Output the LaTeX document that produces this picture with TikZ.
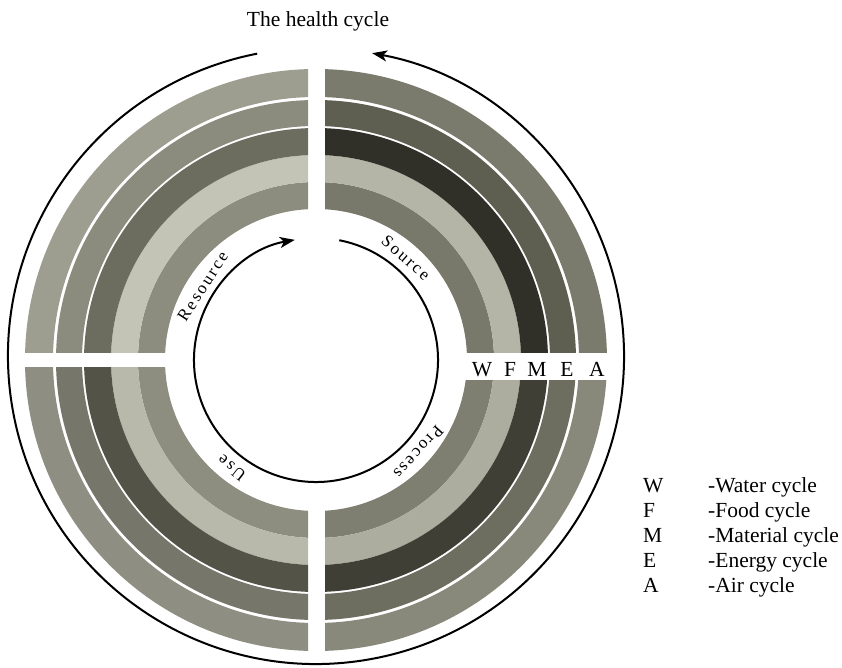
\documentclass[tikz,border=0pt]{standalone}
\usepackage{fontspec}
\setmainfont{Liberation Serif}
\usetikzlibrary{arrows.meta}

\definecolor{srcW}{HTML}{78786B}
\definecolor{srcF}{HTML}{B4B4A7}
\definecolor{srcM}{HTML}{303028}
\definecolor{srcE}{HTML}{5E5E51}
\definecolor{srcA}{HTML}{7B7B6D}
\definecolor{resW}{HTML}{8C8C7F}
\definecolor{resF}{HTML}{C3C3B6}
\definecolor{resM}{HTML}{6C6C5F}
\definecolor{resE}{HTML}{8C8C7E}
\definecolor{resA}{HTML}{9D9D90}
\definecolor{useW}{HTML}{8D8D80}
\definecolor{useF}{HTML}{B8B8AB}
\definecolor{useM}{HTML}{535348}
\definecolor{useE}{HTML}{76766A}
\definecolor{useA}{HTML}{8E8E82}
\definecolor{proW}{HTML}{7E7E71}
\definecolor{proF}{HTML}{ADAD9F}
\definecolor{proM}{HTML}{3F3F36}
\definecolor{proE}{HTML}{6D6D60}
\definecolor{proA}{HTML}{89897B}

\tikzset{
  ring/.style={even odd rule},
  cyclearrow/.style={line width=2pt,->,>={Stealth[length=15pt,width=11pt,inset=4pt]}},
  ringlabel/.style={font=\fontsize{17}{19}\selectfont\addfontfeature{LetterSpace=13},inner sep=0pt},
  keytext/.style={font=\fontsize{21.5}{25}\selectfont,inner sep=0pt}
}

\begin{document}
\begin{tikzpicture}[x=1pt,y=1pt]
\useasboundingbox (-316,-307) rectangle (526,360);
\coordinate (hub) at (0,0);

% source
\begin{scope}
\clip (9,8) rectangle (300,300);
\foreach \ri/\ro/\col in {151/178/srcW,178/205/srcF,205/232/srcM,234/260/srcE,263/291/srcA}
  \fill[ring,\col] (hub) circle (\ro) circle (\ri);
\end{scope}

% resource
\begin{scope}
\clip (-8,8) rectangle (-300,300);
\foreach \ri/\ro/\col in {151/178/resW,178/205/resF,205/232/resM,234/260/resE,263/291/resA}
  \fill[ring,\col] (hub) circle (\ro) circle (\ri);
\end{scope}

% use
\begin{scope}
\clip (-8,-7) rectangle (-300,-300);
\foreach \ri/\ro/\col in {151/178/useW,178/205/useF,205/232/useM,234/260/useE,263/291/useA}
  \fill[ring,\col] (hub) circle (\ro) circle (\ri);
\end{scope}

% process
\begin{scope}
\clip (9,-20) rectangle (300,-300);
\foreach \ri/\ro/\col in {151/178/proW,178/205/proF,205/232/proM,234/260/proE,263/291/proA}
  \fill[ring,\col] (hub) circle (\ro) circle (\ri);
\end{scope}

\draw[cyclearrow] (0,4) ++(101:308) arc (101:439.5:308);
\draw[cyclearrow] (hub) ++(79:122) arc (79:-260:122);

\node[ringlabel,rotate=-41.4] (source) at (48.6:136) {Source};
\node[ringlabel,rotate=57] (resource) at (147:135) {Resource};
\node[ringlabel,rotate=-132] (process) at (-42:138) {Process};
\node[ringlabel,rotate=142] (use) at (232:137) {Use};

\node[keytext,anchor=base] (title) at (2,333) {The health cycle};

\foreach \k/\x in {W/166,F/194,M/221,E/251,A/281}
  \node[keytext,anchor=base] (band\k) at (\x,-16) {\k};

\foreach \k/\t [count=\i] in {W/Water,F/Food,M/Material,E/Energy,A/Air} {
  \node[keytext,anchor=base west] (key\k) at (327,-107-25*\i) {\k};
  \node[keytext,anchor=base west] (name\k) at (392,-107-25*\i) {-\t\ cycle};
}
\end{tikzpicture}
\end{document}
